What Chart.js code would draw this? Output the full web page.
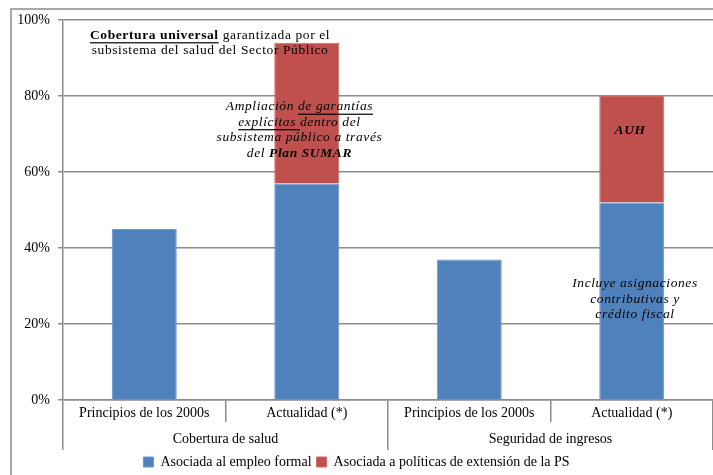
<!DOCTYPE html>
<html>
<head>
<meta charset="utf-8">
<script src="https://cdn.jsdelivr.net/npm/chart.js@4.4.1/dist/chart.umd.min.js"></script>
<style>
  html, body { margin: 0; padding: 0; background: #fff; }
  canvas { display: block; }
</style>
</head>
<body>
<canvas id="chart" width="713" height="475"></canvas>
<script>
// data
const categories = ["Principios de los 2000s", "Actualidad (*)", "Principios de los 2000s", "Actualidad (*)"];
const groups = ["Cobertura de salud", "Seguridad de ingresos"];
const formalValues = [45, 57, 37, 52];
const extensionValues = [null, 37, null, 28];
const seriesNames = ["Asociada al empleo formal", "Asociada a políticas de extensión de la PS"];
const yMax = 100;
const yStep = 20;

const FONT = "'Liberation Serif', 'Times New Roman', serif";
const GRID = "#8c8c8c";

// annotation texts (cat = category index, val = % on the y axis)
const notes = [
  { cat: 0.405, val: 96, italic: false, size: 13.5, lines: [
    [{ t: "Cobertura universal", b: 1, u: 1 }, { t: " garantizada por el" }],
    [{ t: "subsistema del salud del Sector Público" }]
  ]},
  { cat: 0.955, val: 77.2, italic: true, size: 13.5, lines: [
    [{ t: "Ampliación " }, { t: "de garantías", u: 1 }],
    [{ t: "explícitas ", u: 1 }, { t: "dentro del" }],
    [{ t: "subsistema público a través" }],
    [{ t: "del " }, { t: "Plan SUMAR", b: 1 }]
  ]},
  { cat: 2.99, val: 70.8, italic: true, size: 13.5, lines: [
    [{ t: "AUH", b: 1 }]
  ]},
  { cat: 3.02, val: 30.6, italic: true, size: 13.5, lines: [
    [{ t: "Incluye asignaciones" }],
    [{ t: "contributivas y" }],
    [{ t: "crédito fiscal" }]
  ]}
];

Chart.defaults.font.family = FONT;
Chart.defaults.font.size = 14;
Chart.defaults.color = "#000";

// outer frame
const framePlugin = {
  id: "frame",
  beforeDraw(chart) {
    const ctx = chart.ctx;
    ctx.save();
    ctx.strokeStyle = GRID;
    ctx.lineWidth = 1.5;
    ctx.strokeRect(11, 9, 720, 480);
    ctx.restore();
  }
};

function drawLine(ctx, runs, cx, y, italic, size) {
  const fonts = runs.map(r => (italic ? "italic " : "") + (r.b ? "bold " : "") + size + "px " + FONT);
  const widths = runs.map((r, i) => { ctx.font = fonts[i]; return ctx.measureText(r.t).width; });
  let x = cx - widths.reduce((a, b) => a + b, 0) / 2;
  runs.forEach((r, i) => {
    ctx.font = fonts[i];
    ctx.fillText(r.t, x, y);
    if (r.u) ctx.fillRect(x, y + 7, widths[i], 1.2);
    x += widths[i];
  });
}

const notesPlugin = {
  id: "notes",
  afterDatasetsDraw(chart) {
    const ctx = chart.ctx;
    const xs = chart.scales.x, ys = chart.scales.y;
    ctx.save();
    ctx.fillStyle = "#000";
    ctx.textBaseline = "middle";
    ctx.textAlign = "left";
    notes.forEach(n => {
      ctx.letterSpacing = "0.6px";
      const cx = xs.getPixelForValue(n.cat);
      const y0 = ys.getPixelForValue(n.val);
      n.lines.forEach((runs, i) => drawLine(ctx, runs, cx, y0 + i * 15.5, n.italic, n.size));
    });
    ctx.restore();
  }
};

new Chart(document.getElementById("chart"), {
  type: "bar",
  data: {
    labels: categories,
    datasets: [
      { label: seriesNames[0], data: formalValues, backgroundColor: "#4f81bd", borderColor: "#6d97cb", borderWidth: 1 },
      { label: seriesNames[1], data: extensionValues, backgroundColor: "#c0504d", borderColor: "#cc6a67", borderWidth: 1 }
    ]
  },
  options: {
    responsive: false,
    animation: false,
    devicePixelRatio: 1,
    layout: { padding: { top: 20, left: 0, right: 0, bottom: 0 } },
    datasets: { bar: { barPercentage: 0.4, categoryPercentage: 1 } },
    plugins: {
      legend: {
        position: "bottom",
        maxHeight: 25,
        labels: { boxWidth: 10, boxHeight: 10, padding: 5, color: "#000", font: { size: 14 } }
      },
      tooltip: { enabled: false }
    },
    scales: {
      y: {
        stacked: true,
        min: 0,
        max: yMax,
        ticks: { stepSize: yStep, padding: 8, callback: v => v + "%" },
        grid: { color: GRID, lineWidth: 1.5, tickLength: 5 },
        border: { color: GRID, width: 1.5 },
        afterFit: s => { s.width = 63; }
      },
      x: {
        stacked: true,
        offset: true,
        ticks: { padding: -17, maxRotation: 0, autoSkip: false },
        grid: { offset: true, drawOnChartArea: false, tickLength: 22, color: GRID, lineWidth: 1.5 },
        border: { color: GRID, width: 1.5 },
        afterFit: s => { s.height = 22; }
      },
      x2: {
        type: "category",
        labels: groups,
        position: "bottom",
        offset: true,
        ticks: { padding: -19, maxRotation: 0, autoSkip: false },
        grid: { offset: true, drawOnChartArea: false, tickLength: 28, color: GRID, lineWidth: 1.5 },
        border: { display: false },
        afterFit: s => { s.height = 28; }
      }
    }
  },
  plugins: [framePlugin, notesPlugin]
});
</script>
</body>
</html>
